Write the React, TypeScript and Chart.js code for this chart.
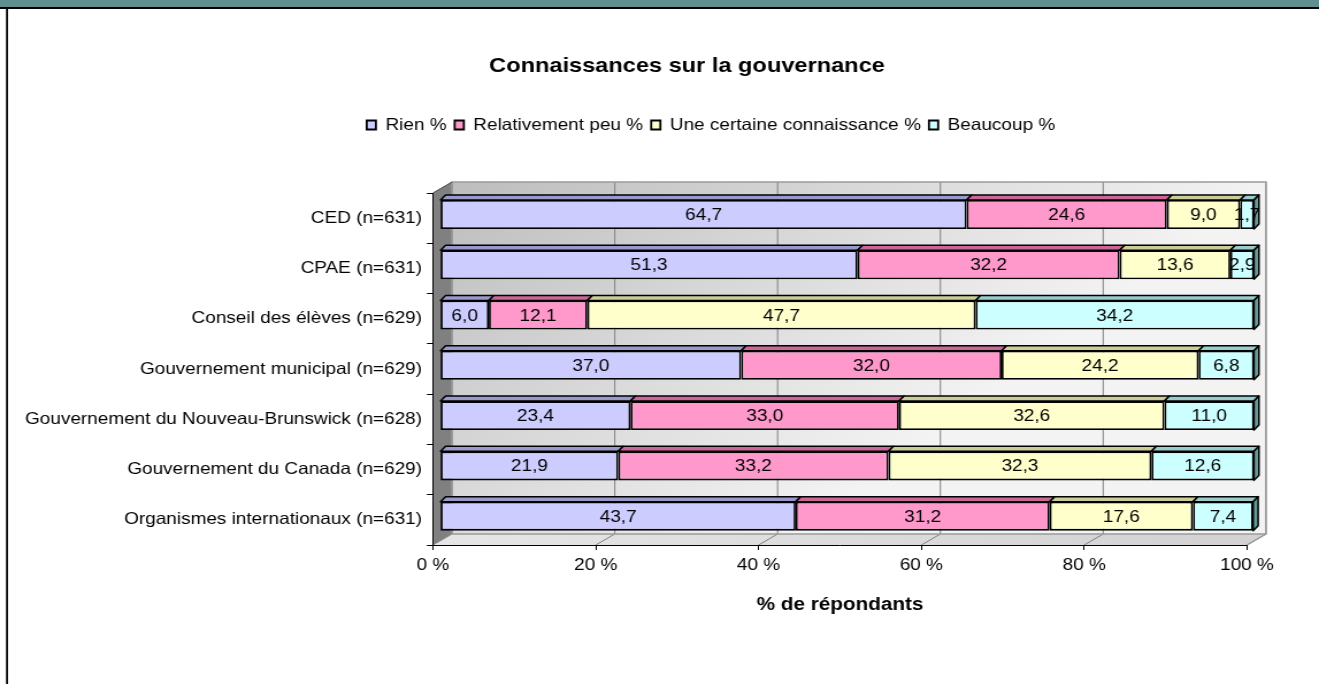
import { useEffect, useRef } from 'react';
import { Chart, registerables } from 'chart.js';

Chart.register(...registerables);

// ---------- data ----------
const categories = [
  'CED (n=631)',
  'CPAE (n=631)',
  'Conseil des élèves (n=629)',
  'Gouvernement municipal (n=629)',
  'Gouvernement du Nouveau-Brunswick (n=628)',
  'Gouvernement du Canada (n=629)',
  'Organismes internationaux (n=631)',
];
const rienValues = [64.7, 51.3, 6.0, 37.0, 23.4, 21.9, 43.7];
const peuValues = [24.6, 32.2, 12.1, 32.0, 33.0, 33.2, 31.2];
const certaineValues = [9.0, 13.6, 47.7, 24.2, 32.6, 32.3, 17.6];
const beaucoupValues = [1.7, 2.9, 34.2, 6.8, 11.0, 12.6, 7.4];
const seriesNames = ['Rien %', 'Relativement peu %', 'Une certaine connaissance %', 'Beaucoup %'];
const xTickValues = [0, 20, 40, 60, 80, 100];
const chartTitle = 'Connaissances sur la gouvernance';
const xAxisTitle = '% de répondants';

// ---------- styles ----------
const PAGE_W = 1319;
const PAGE_H = 684;
const STRETCH = 1.15;
const CW = Math.round(PAGE_W / STRETCH);
const FONT = '"Liberation Sans", Arial, sans-serif';

const faceColors = ['#CCCCFF', '#FF99CC', '#FFFFCC', '#CCFFFF'];
const topColors = ['#9999CC', '#CC6699', '#CCCC99', '#99CCCC'];
const sideColors = ['#666699', '#993366', '#999966', '#669999'];

const WALL_D = { x: 19 / STRETCH, y: -11 };
const BAR_SHIFT = { x: 7 / STRETCH, y: -3.7 };
const BAR_DEPTH = { x: 5 / STRETCH, y: -5 };

const CA_LEFT = 433 / STRETCH;
const CA_RIGHT = 1247 / STRETCH;
const RPAD = CW - CA_RIGHT;
const TITLE_CENTER = 687 / STRETCH;
const LEGEND_CENTER = 711 / STRETCH;

const fmt = (v: number) => v.toFixed(1).replace('.', ',');

const threeDPlugin: any = {
  id: 'threeD',
  afterLayout(chart: any) {
    const shift = (box: any, target: number) => {
      if (!box) return;
      const d = target - (box.left + box.right) / 2;
      box.left += d;
      box.right += d;
    };
    shift(chart.titleBlock, TITLE_CENTER);
    shift(chart.legend, LEGEND_CENTER);
  },
  beforeDraw(chart: any) {
    const { ctx, chartArea: ca } = chart;
    const xs = chart.scales.x;
    ctx.save();
    // frame
    ctx.fillStyle = '#5f8f8e';
    ctx.fillRect(0, 0, chart.width, 7);
    ctx.fillStyle = '#000';
    ctx.fillRect(0, 7, chart.width, 2);
    ctx.fillRect(6 / STRETCH, 7, 2 / STRETCH, chart.height - 7);

    const dx = WALL_D.x;
    const dy = WALL_D.y;
    const bl = ca.left + dx;
    const br = ca.right + dx;
    const bt = ca.top + dy;
    const bb = ca.bottom + dy;

    // back wall
    const g = ctx.createLinearGradient(bl, bt, bl + 300, bb);
    g.addColorStop(0, '#bdbdbd');
    g.addColorStop(1, '#f3f3f3');
    ctx.fillStyle = g;
    ctx.fillRect(bl, bt, br - bl, bb - bt);

    // left wall
    ctx.beginPath();
    ctx.moveTo(ca.left, ca.top);
    ctx.lineTo(bl, bt);
    ctx.lineTo(bl, bb);
    ctx.lineTo(ca.left, ca.bottom);
    ctx.closePath();
    ctx.fillStyle = '#808080';
    ctx.fill();

    // floor
    const fg = ctx.createLinearGradient(ca.left, 0, br, 0);
    fg.addColorStop(0, '#e6e6e6');
    fg.addColorStop(1, '#d2d2d2');
    ctx.beginPath();
    ctx.moveTo(ca.left, ca.bottom);
    ctx.lineTo(ca.right, ca.bottom);
    ctx.lineTo(br, bb);
    ctx.lineTo(bl, bb);
    ctx.closePath();
    ctx.fillStyle = fg;
    ctx.fill();

    // gridlines on wall and floor
    ctx.strokeStyle = '#808080';
    ctx.lineWidth = 1;
    xTickValues.forEach((v) => {
      const px = xs.getPixelForValue(v);
      ctx.beginPath();
      ctx.moveTo(px + dx, bt);
      ctx.lineTo(px + dx, bb);
      ctx.moveTo(px, ca.bottom);
      ctx.lineTo(px + dx, bb);
      ctx.stroke();
    });

    // outlines
    ctx.strokeStyle = '#9a9a9a';
    ctx.lineWidth = 1.5;
    ctx.strokeRect(bl, bt, br - bl, bb - bt);
    ctx.beginPath();
    ctx.moveTo(ca.right, ca.bottom);
    ctx.lineTo(br, bb);
    ctx.stroke();
    ctx.strokeStyle = '#404040';
    ctx.lineWidth = 1;
    ctx.beginPath();
    ctx.moveTo(ca.left, ca.top);
    ctx.lineTo(bl, bt);
    ctx.stroke();
    ctx.restore();
  },
  beforeDatasetsDraw(chart: any) {
    chart.ctx.save();
    chart.ctx.translate(BAR_SHIFT.x, BAR_SHIFT.y);
  },
  afterDatasetsDraw(chart: any) {
    const ctx = chart.ctx;
    const n = chart.data.labels.length;
    const metas = chart.data.datasets.map((_: any, i: number) => chart.getDatasetMeta(i));
    const ddx = BAR_DEPTH.x;
    const ddy = BAR_DEPTH.y;
    ctx.lineJoin = 'round';
    for (let j = 0; j < n; j++) {
      let last: any = null;
      metas.forEach((meta: any, i: number) => {
        const el = meta.data[j];
        if (!el) return;
        const p = el.getProps(['x', 'y', 'base', 'height'], true);
        const l = Math.min(p.x, p.base);
        const r = Math.max(p.x, p.base);
        const t = p.y - p.height / 2;
        const b = p.y + p.height / 2;
        if (r - l < 0.01) return;
        ctx.beginPath();
        ctx.moveTo(l, t);
        ctx.lineTo(l + ddx, t + ddy);
        ctx.lineTo(r + ddx, t + ddy);
        ctx.lineTo(r, t);
        ctx.closePath();
        ctx.fillStyle = topColors[i];
        ctx.fill();
        ctx.strokeStyle = '#000';
        ctx.lineWidth = 1.5;
        ctx.stroke();
        last = { l, r, t, b, i };
      });
      if (last) {
        ctx.beginPath();
        ctx.moveTo(last.r, last.t);
        ctx.lineTo(last.r + ddx, last.t + ddy);
        ctx.lineTo(last.r + ddx, last.b + ddy);
        ctx.lineTo(last.r, last.b);
        ctx.closePath();
        ctx.fillStyle = sideColors[last.i];
        ctx.fill();
        ctx.strokeStyle = '#000';
        ctx.lineWidth = 1.5;
        ctx.stroke();
      }
    }
    // value labels
    ctx.fillStyle = '#000';
    ctx.font = `16.5px ${FONT}`;
    ctx.textAlign = 'center';
    ctx.textBaseline = 'middle';
    metas.forEach((meta: any, i: number) => {
      const values = chart.data.datasets[i].data;
      meta.data.forEach((el: any, j: number) => {
        const p = el.getProps(['x', 'y', 'base'], true);
        ctx.fillText(fmt(values[j]), (p.x + p.base) / 2, p.y + 1);
      });
    });
    ctx.restore();
  },
};

export default function App() {
  const canvasRef = useRef<HTMLCanvasElement | null>(null);

  useEffect(() => {
    const canvas = canvasRef.current;
    if (!canvas) return;
    const seriesValues = [rienValues, peuValues, certaineValues, beaucoupValues];
    const chart = new Chart(canvas, {
      type: 'bar',
      data: {
        labels: categories,
        datasets: seriesNames.map((name, i) => ({
          label: name,
          data: seriesValues[i],
          backgroundColor: faceColors[i],
          borderColor: '#000',
          borderWidth: 1.8,
          borderSkipped: false,
          categoryPercentage: 1,
          barPercentage: 0.577,
          clip: false,
        })) as any,
      },
      options: {
        responsive: false,
        animation: false,
        devicePixelRatio: 1,
        indexAxis: 'y',
        layout: { padding: { top: 40, left: 0, right: RPAD, bottom: 59 } },
        plugins: {
          title: {
            display: true,
            text: chartTitle,
            color: '#000',
            font: { family: FONT, size: 20.5, weight: 'bold' },
            padding: { top: 13.7, bottom: 31.45 },
          },
          legend: {
            display: true,
            position: 'top',
            labels: {
              color: '#000',
              font: { family: FONT, size: 16.5 },
              boxWidth: 8,
              boxHeight: 9,
              padding: 7,
            },
          },
          tooltip: { enabled: false },
        },
        scales: {
          x: {
            type: 'linear',
            position: 'bottom',
            stacked: true,
            min: 0,
            max: 100,
            ticks: {
              stepSize: 20,
              color: '#000',
              font: { family: FONT, size: 16.5 },
              padding: 6,
              callback: (v: any) => `${v} %`,
            },
            grid: { drawOnChartArea: false, drawTicks: true, tickLength: 5, color: '#000' },
            border: { display: true, color: '#000', width: 1 },
            title: {
              display: true,
              text: xAxisTitle,
              color: '#000',
              font: { family: FONT, size: 18, weight: 'bold' },
              padding: { top: 0, bottom: 9.2 },
            },
            afterFit: (s: any) => {
              s.height = 80;
            },
          },
          xTop: {
            type: 'linear',
            position: 'top',
            min: 0,
            max: 100,
            display: true,
            ticks: { display: false },
            grid: { display: false },
            border: { display: false },
            afterFit: (s: any) => {
              s.height = 49.75;
            },
          },
          y: {
            type: 'category',
            stacked: true,
            ticks: { color: '#000', font: { family: FONT, size: 16.5 }, padding: 4.3 },
            grid: { drawOnChartArea: false, drawTicks: true, tickLength: 6 / STRETCH, color: '#000', offset: true },
            border: { display: true, color: '#000', width: 1 },
            afterFit: (s: any) => {
              s.width = CA_LEFT;
            },
          },
        } as any,
      },
      plugins: [threeDPlugin],
    } as any);
    return () => chart.destroy();
  }, []);

  return (
    <div style={{ position: 'absolute', left: 0, top: 0, width: PAGE_W, height: PAGE_H, background: '#fff' }}>
      <canvas
        ref={canvasRef}
        width={CW}
        height={PAGE_H}
        style={{ width: `${PAGE_W}px`, height: `${PAGE_H}px`, display: 'block' }}
      />
    </div>
  );
}
